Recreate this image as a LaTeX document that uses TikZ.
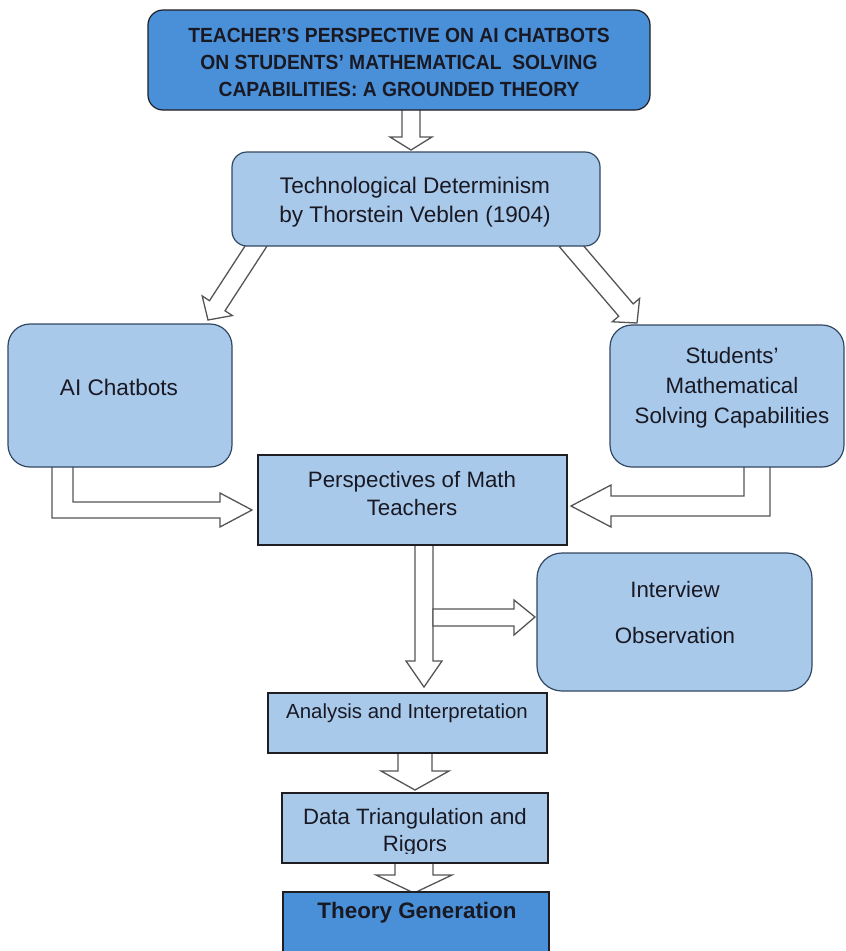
\documentclass[tikz,border=0pt]{standalone}
\usepackage{fontspec}
\setmainfont{Liberation Sans}
\newfontfamily\titlefont[FakeStretch=0.94]{Liberation Sans}
\usetikzlibrary{calc}
\definecolor{darkfill}{RGB}{74,144,217}
\definecolor{lightfill}{RGB}{169,201,235}
\definecolor{rborder}{RGB}{50,72,98}
\definecolor{sborder}{RGB}{30,30,35}
\definecolor{arrowgray}{RGB}{85,85,85}
\definecolor{txtcol}{RGB}{25,25,35}
\tikzset{
  barrow/.style={draw=arrowgray, line width=1.3pt, fill=white, line join=miter},
  rbox/.style={draw=rborder, line width=1.2pt, fill=lightfill, rounded corners=#1, inner sep=0pt},
  rbox/.default=15pt,
  sbox/.style={draw=sborder, line width=1.2pt, fill=lightfill, inner sep=0pt},
  lbl/.style={inner sep=0pt, align=center, text=txtcol, font=\fontsize{22.6}{29}\selectfont},
}
\newcommand\blockarr[7]{%
  \begin{scope}[shift={(#1,#2)},rotate=#3]
    \draw[barrow] (0,0) -- (-#7,#6/2) -- (-#7,#5/2) -- (-#4,#5/2) -- (-#4,-#5/2) -- (-#7,-#5/2) -- (-#7,-#6/2) -- cycle;
  \end{scope}}
\begin{document}
\begin{tikzpicture}[x=1pt,y=-1pt]
\useasboundingbox[fill=white] (0,0) rectangle (846,951);
% ---- arrows (drawn first, boxes cover their tails)
\draw[barrow] (402,105) -- (420,105) -- (420,137) -- (432,137) -- (411,150) -- (390,137) -- (402,137) -- cycle;
\blockarr{208}{320}{237}{95}{18.5}{36}{17}
\blockarr{637}{323}{-49.5}{108}{19}{36}{17}
\draw[barrow] (52,460) -- (73,460) -- (73,502) -- (220,502) -- (220,493) -- (252,510) -- (220,527) -- (220,518) -- (52,518) -- cycle;
\draw[barrow] (770,460) -- (770,516) -- (611,516) -- (611,527) -- (571,506) -- (611,485) -- (611,496) -- (744,496) -- (744,460) -- cycle;
\draw[barrow] (415,540) -- (433,540) -- (433,661) -- (442,661) -- (424,687) -- (406,661) -- (415,661) -- cycle;
\draw[barrow] (433,609) -- (514,609) -- (514,600) -- (535,617) -- (514,635) -- (514,626) -- (433,626) -- cycle;
\draw[barrow] (398,748) -- (432,748) -- (432,771) -- (449,771) -- (415,790) -- (381,771) -- (398,771) -- cycle;
\draw[barrow] (395,858) -- (433,858) -- (433,875) -- (452,875) -- (414,893) -- (376,875) -- (395,875) -- cycle;
% ---- boxes
\node[rbox, draw=sborder, fill=darkfill, minimum width=502pt, minimum height=100pt] (title) at (399,60) {};
\node[rbox, minimum width=368pt, minimum height=94pt] (tech) at (416,199) {};
\node[rbox=22pt, minimum width=224pt, minimum height=143pt] (ai) at (120,395.5) {};
\node[rbox=22pt, minimum width=234pt, minimum height=142pt] (stud) at (727,396) {};
\node[sbox, minimum width=309pt, minimum height=90pt] (persp) at (412.5,500) {};
\node[rbox=25pt, minimum width=275pt, minimum height=138pt] (interv) at (674.5,622) {};
\node[sbox, minimum width=279pt, minimum height=60pt] (anal) at (407.5,723) {};
\node[sbox, minimum width=266pt, minimum height=70pt] (data) at (415,828) {};
\node[sbox, fill=darkfill, minimum width=266pt, minimum height=108pt] (theory) at (416,946) {};
% ---- texts
\node[lbl, font=\titlefont\bfseries\fontsize{20.5}{27}\selectfont] (titletext) at (399,62) {TEACHER’S PERSPECTIVE ON AI CHATBOTS\\ON STUDENTS’ MATHEMATICAL~ SOLVING\\CAPABILITIES: A GROUNDED THEORY};
\node[lbl] (techtext) at (415,202) {Technological Determinism\\by Thorstein Veblen (1904)};
\node[lbl] (aitext) at (119,387) {AI Chatbots};
\node[lbl, font=\fontsize{22.3}{30}\selectfont] (studtext) at (732,388) {Students’\\Mathematical\\Solving Capabilities};
\node[lbl, font=\fontsize{22.3}{28}\selectfont] (persptext) at (412,494) {Perspectives of Math\\Teachers};
\node[lbl, font=\fontsize{22.3}{46}\selectfont] (intervtext) at (675,613) {Interview\\Observation};
\node[lbl, font=\fontsize{20.4}{26}\selectfont] (analtext) at (407,713) {Analysis and Interpretation};
\begin{scope}
  \clip (282,793) rectangle (548,853);
  \node[lbl, font=\fontsize{22.2}{27}\selectfont] (datatext) at (415,832) {Data Triangulation and\\Rigors};
\end{scope}
\node[lbl, font=\bfseries\fontsize{22.4}{28}\selectfont] (theorytext) at (417,913) {Theory Generation};
\end{tikzpicture}
\end{document}
